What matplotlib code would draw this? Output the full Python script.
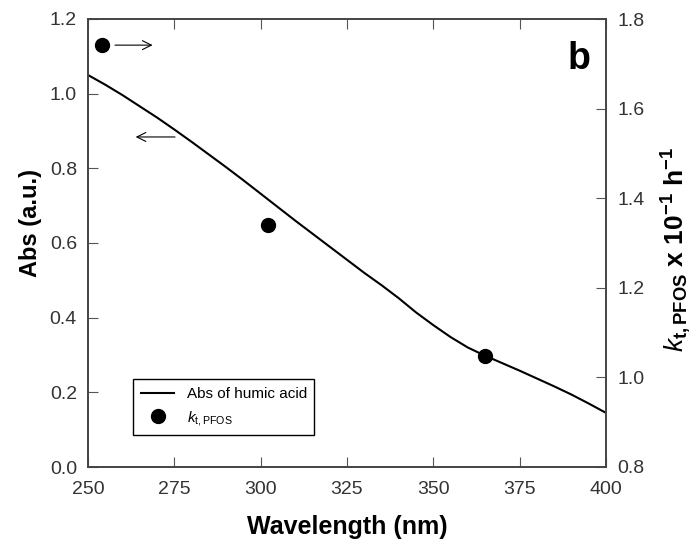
import matplotlib.pyplot as plt
from matplotlib.lines import Line2D

plt.rcParams['font.family'] = ['Liberation Sans', 'DejaVu Sans']
plt.rcParams['mathtext.fontset'] = 'custom'
plt.rcParams['mathtext.rm'] = 'Liberation Sans'
plt.rcParams['mathtext.it'] = 'Liberation Sans:italic'
plt.rcParams['mathtext.bf'] = 'Liberation Sans:bold'

# absorbance of humic acid (left axis)
wavelength = [250, 255, 260, 265, 270, 275, 280, 285, 290, 295, 300, 305, 310, 315,
              320, 325, 330, 335, 340, 345, 350, 355, 360, 365, 370, 375, 380, 385,
              390, 395, 400]
absorbance = [1.050, 1.024, 0.996, 0.966, 0.936, 0.904, 0.871, 0.837, 0.803, 0.768,
              0.732, 0.696, 0.660, 0.625, 0.590, 0.555, 0.520, 0.487, 0.452, 0.414,
              0.380, 0.348, 0.320, 0.298, 0.278, 0.258, 0.237, 0.216, 0.194, 0.170,
              0.145]

# rate constants (right axis)
k_wavelength = [254, 302, 365]
k_pfos = [1.742, 1.340, 1.048]

fig = plt.figure(figsize=(6.96, 5.55), dpi=100)
ax = fig.add_axes([88/696, 1-467/555, 518/696, 448/555])
ax2 = ax.twinx()

ax.plot(wavelength, absorbance, color='black', lw=1.5)
ax2.plot(k_wavelength, k_pfos, 'o', color='black', markersize=10)

ax.set_xlim(250, 400)
ax.set_ylim(0, 1.2)
ax2.set_ylim(0.8, 1.8)
ax.set_xticks([250, 275, 300, 325, 350, 375, 400])
ax.set_yticks([0.0, 0.2, 0.4, 0.6, 0.8, 1.0, 1.2])
ax2.set_yticks([0.8, 1.0, 1.2, 1.4, 1.6, 1.8])
ax.yaxis.set_major_formatter(plt.FormatStrFormatter('%.1f'))
ax2.yaxis.set_major_formatter(plt.FormatStrFormatter('%.1f'))

ax.tick_params(axis='x', direction='in', top=True, length=7, labelsize=14, pad=10, color='#555555', labelcolor='#333333')
ax.tick_params(axis='y', direction='in', length=7, labelsize=14, pad=8, color='#555555', labelcolor='#333333')
ax2.tick_params(axis='y', direction='in', length=7, labelsize=14, pad=8, color='#555555', labelcolor='#333333')
for a in (ax, ax2):
    for s in a.spines.values():
        s.set_color('#444444')
        s.set_linewidth(1.2)

ax.set_xlabel('Wavelength (nm)', fontsize=18, fontweight='bold', labelpad=12)
ax.set_ylabel('Abs (a.u.)', fontsize=17, fontweight='bold')
ax.yaxis.set_label_coords(-0.088, 0.545)
ax2.set_ylabel(r'$\mathit{k}_{\mathbf{t,PFOS}}$ x 10$^{\mathbf{-1}}$ h$^{\mathbf{-1}}$',
               fontsize=19, fontweight='bold')
ax2.yaxis.set_label_coords(1.104, 0.485)

# arrows pointing to the axes
ax.annotate('', xy=(269.5, 1.13), xytext=(257, 1.13),
            arrowprops=dict(arrowstyle='->', color='black', lw=0.8, mutation_scale=16))
ax.annotate('', xy=(263, 0.884), xytext=(276, 0.884),
            arrowprops=dict(arrowstyle='->', color='black', lw=0.8, mutation_scale=16))

ax.text(0.97, 0.91, 'b', transform=ax.transAxes, fontsize=27, fontweight='bold',
        ha='right', va='center')

handles = [Line2D([], [], color='black', lw=1.5),
           Line2D([], [], marker='o', ls='', color='black', markersize=10)]
leg = ax.legend(handles, ['Abs of humic acid', r'$\mathit{k}_{\mathrm{t,PFOS}}$'],
                loc='lower left', bbox_to_anchor=(0.087, 0.071), borderaxespad=0,
                fontsize=11, fancybox=False, edgecolor='black', framealpha=1,
                handlelength=2.2, borderpad=0.5, labelspacing=0.5)
leg.get_frame().set_linewidth(1.0)

plt.savefig('out.png', dpi=100)
